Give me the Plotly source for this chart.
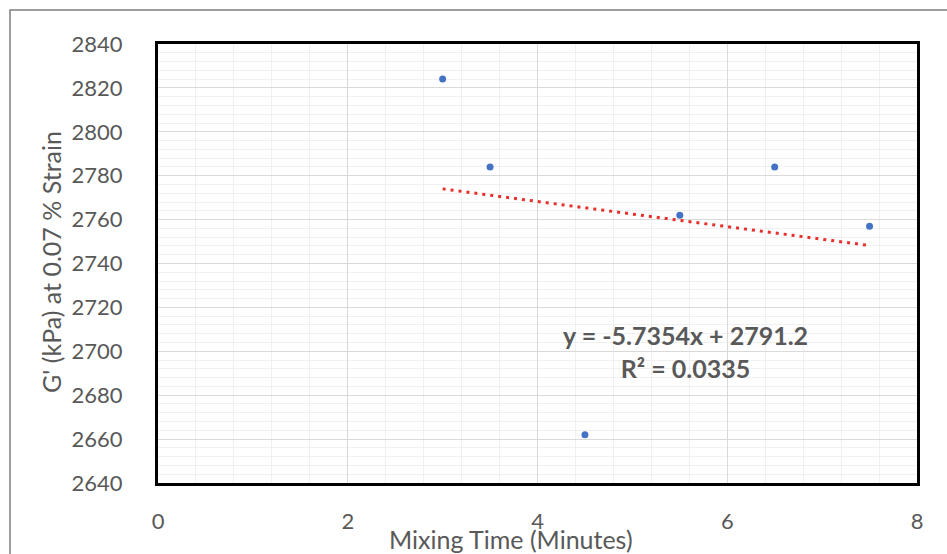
import plotly.graph_objects as go

mixing_time = [3, 3.5, 4.5, 5.5, 6.5, 7.5]
g_prime = [2824, 2784, 2662, 2762, 2784, 2757]
slope = -5.7354
intercept = 2791.2
r2 = 0.0335
trend_x = [min(mixing_time), max(mixing_time)]
trend_y = [slope * x + intercept for x in trend_x]

W, H = 947, 554
L, R, T, B = 158, 30, 44, 71
pw, ph = W - L - R, H - T - B

def px(x):
    return (x - L) / pw

def py(y):
    return (H - B - y) / ph

font = "Lato, 'Open Sans', sans-serif"
gray = "#595959"

fig = go.Figure()
fig.add_trace(go.Scatter(x=trend_x, y=trend_y, mode="lines",
                         line=dict(color="#e8302a", width=3, dash="3px,5px"),
                         hoverinfo="skip", showlegend=False))
fig.add_trace(go.Scatter(x=mixing_time, y=g_prime, mode="markers",
                         marker=dict(color="#4472C4", size=7),
                         showlegend=False))

fig.update_layout(
    width=W, height=H,
    margin=dict(l=L, r=R, t=T, b=B),
    paper_bgcolor="white", plot_bgcolor="white",
    font=dict(family=font, color=gray, size=22),
    xaxis=dict(range=[0, 8], dtick=2, showgrid=True, gridcolor="#d9d9d9", gridwidth=1,
               minor=dict(dtick=0.4, showgrid=True, gridcolor="#f0f0f0"),
               showline=True, mirror=True, linecolor="black", linewidth=3,
               ticks="", ticklabelstandoff=17, zeroline=False,
               tickfont=dict(size=22, color=gray)),
    yaxis=dict(range=[2640, 2840], dtick=20, showgrid=True, gridcolor="#d9d9d9", gridwidth=1,
               minor=dict(dtick=4, showgrid=True, gridcolor="#f0f0f0"),
               showline=True, mirror=True, linecolor="black", linewidth=3,
               ticks="", ticklabelstandoff=28, zeroline=False,
               tickfont=dict(size=22, color=gray)),
    shapes=[dict(type="rect", xref="paper", yref="paper",
                 x0=px(10), x1=px(960), y0=py(570), y1=py(10),
                 line=dict(color="#7f7f7f", width=1.5), layer="below")],
    annotations=[
        dict(text="Mixing Time (Minutes)", xref="paper", yref="paper",
             x=px(511), y=py(539), showarrow=False, xanchor="center", yanchor="middle",
             font=dict(size=25, color=gray)),
        dict(text="G' (kPa) at 0.07 % Strain", xref="paper", yref="paper",
             x=px(51), y=py(262), showarrow=False, textangle=-90,
             xanchor="center", yanchor="middle", font=dict(size=25, color=gray)),
        dict(text=f"<b>y = {slope}x + {intercept}</b><br><b>R² = {r2}</b>",
             x=5.555, y=2700, xref="x", yref="y", showarrow=False,
             xanchor="center", yanchor="middle", align="center",
             font=dict(size=25, color=gray)),
    ],
)

fig.write_html("out.html")
